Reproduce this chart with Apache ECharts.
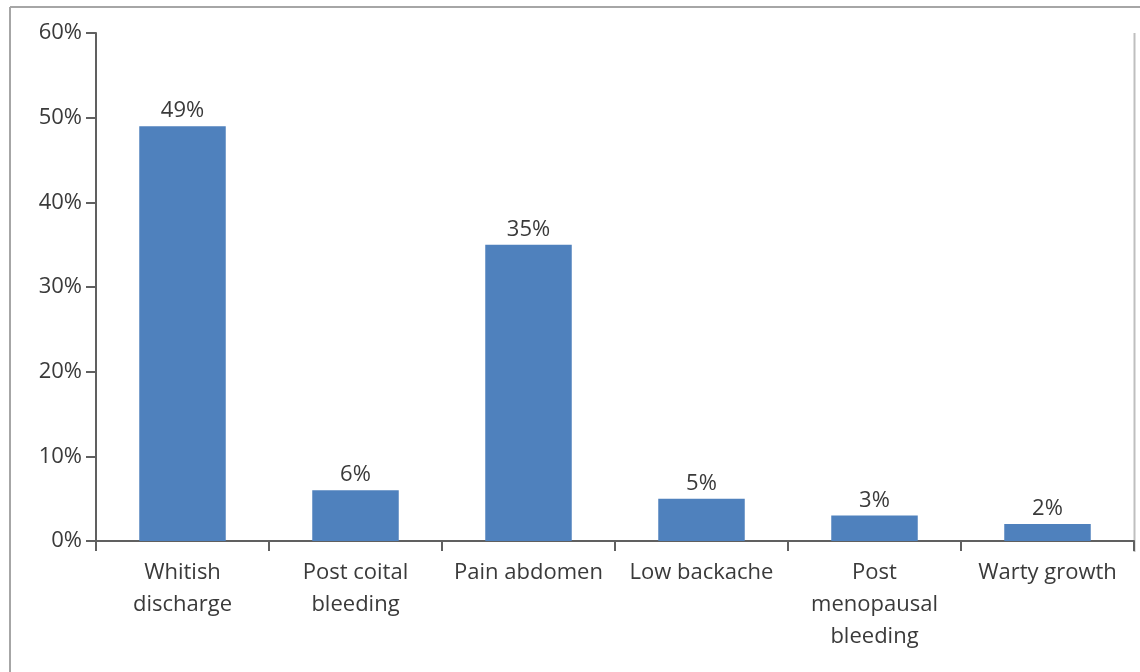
<!DOCTYPE html>
<html>
<head>
<meta charset="utf-8">
<script src="https://cdn.jsdelivr.net/npm/echarts@6/dist/echarts.min.js"></script>
<style>
  html, body { margin: 0; padding: 0; background: #ffffff; }
  #chart { width: 1140px; height: 672px; }
</style>
</head>
<body>
<div id="chart"></div>
<script>
// Presenting complaints (% of patients)
const categories = [
  'Whitish\ndischarge',
  'Post coital\nbleeding',
  'Pain abdomen',
  'Low backache',
  'Post\nmenopausal\nbleeding',
  'Warty growth'
];
const percentages = [49, 6, 35, 5, 3, 2];
const yTicks = { min: 0, max: 60, step: 10 };

const textColor = '#3a3a3a';
const axisColor = '#606060';
const fontFamily = '"Open Sans", "Liberation Sans", sans-serif';

const chart = echarts.init(document.getElementById('chart'), null, { renderer: 'canvas' });

chart.setOption({
  animation: false,
  backgroundColor: '#ffffff',
  grid: { left: 96, right: 6, top: 33, bottom: 131, containLabel: false },
  graphic: [
    // outer frame (top and left edges)
    { type: 'line', shape: { x1: 10, y1: 7, x2: 1140, y2: 7 },
      style: { stroke: '#a6a6a6', lineWidth: 2 } },
    { type: 'line', shape: { x1: 10, y1: 7, x2: 10, y2: 672 },
      style: { stroke: '#a6a6a6', lineWidth: 2 } },
    // right edge of the plot frame
    { type: 'line', shape: { x1: 1134.5, y1: 33, x2: 1134.5, y2: 552 },
      style: { stroke: '#bfbfbf', lineWidth: 2 } }
  ],
  xAxis: {
    type: 'category',
    data: categories,
    boundaryGap: true,
    axisLine: { show: true, lineStyle: { color: axisColor, width: 2 } },
    axisTick: { show: true, alignWithLabel: false, length: 10, inside: false,
                lineStyle: { color: axisColor, width: 2 } },
    axisLabel: {
      interval: 0,
      color: textColor,
      fontFamily: fontFamily,
      fontSize: 22,
      lineHeight: 32,
      margin: 16
    },
    splitLine: { show: false }
  },
  yAxis: {
    type: 'value',
    min: yTicks.min,
    max: yTicks.max,
    interval: yTicks.step,
    axisLine: { show: true, lineStyle: { color: axisColor, width: 2 } },
    axisTick: { show: true, length: 10, lineStyle: { color: axisColor, width: 2 } },
    axisLabel: {
      formatter: '{value}%',
      color: textColor,
      fontFamily: fontFamily,
      fontSize: 22,
      margin: 14
    },
    splitLine: { show: false }
  },
  series: [{
    type: 'bar',
    data: percentages,
    barWidth: '50%',
    itemStyle: { color: '#4f81bd' },
    label: {
      show: true,
      position: 'top',
      distance: 4,
      formatter: '{c}%',
      color: textColor,
      fontFamily: fontFamily,
      fontSize: 22
    }
  }]
});
</script>
</body>
</html>
